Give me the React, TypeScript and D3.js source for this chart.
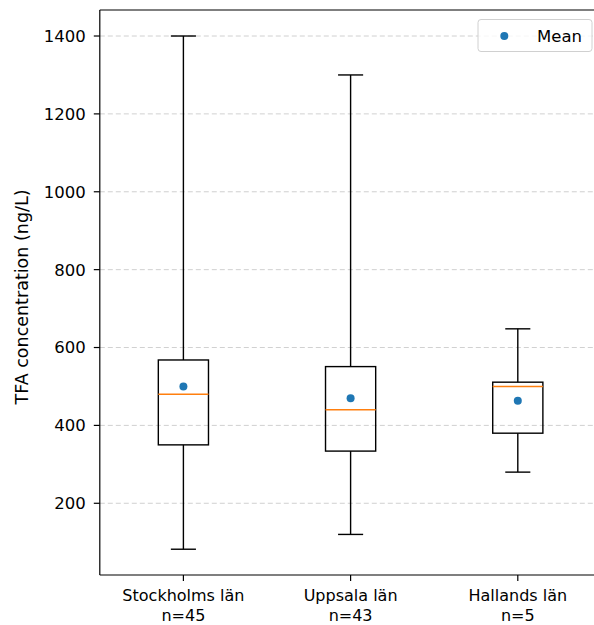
import React from "react";
import * as d3 from "d3";

// Box-plot summary per county (ng/L)
const categories = ["Stockholms län", "Uppsala län", "Hallands län"];
const counts = [45, 43, 5];
const whiskerLow = [82, 120, 280];
const q1 = [350, 334, 380];
const median = [480, 440, 500];
const q3 = [568, 551, 511];
const whiskerHigh = [1400, 1300, 648];
const means = [500, 470, 463];
const yTicks = [200, 400, 600, 800, 1000, 1200, 1400];

const W = 594;
const H = 625;
const plot = { left: 99.8, right: 601.4, top: 10, bottom: 575 };
const FONT = "DejaVu Sans, sans-serif";

export default function App() {
  const x = d3.scaleLinear().domain([0.5, 3.5]).range([plot.left, plot.right]);
  const y = d3.scaleLinear().domain([15.8, 1466.8]).range([plot.bottom, plot.top]);
  const boxW = x(1.15) - x(0.85);
  const capW = boxW / 2;

  return (
    <div style={{ position: "absolute", left: 0, top: 0 }}>
      <svg width={W} height={H} style={{ display: "block", background: "#fff" }}>
        <rect x={0} y={0} width={W} height={H} fill="#fff" />
        {/* horizontal dashed grid */}
        {yTicks.map((t) => (
          <line
            key={"g" + t}
            x1={plot.left}
            x2={plot.right}
            y1={y(t)}
            y2={y(t)}
            stroke="#b0b0b0"
            strokeOpacity={0.6}
            strokeWidth={1}
            strokeDasharray="5,3"
          />
        ))}
        {/* boxes */}
        {categories.map((c, i) => {
          const cx = x(i + 1);
          return (
            <g key={c} fill="none" stroke="#000" strokeWidth={1.4}>
              <line x1={cx} x2={cx} y1={y(q3[i])} y2={y(whiskerHigh[i])} />
              <line x1={cx} x2={cx} y1={y(q1[i])} y2={y(whiskerLow[i])} />
              <line x1={cx - capW / 2} x2={cx + capW / 2} y1={y(whiskerHigh[i])} y2={y(whiskerHigh[i])} />
              <line x1={cx - capW / 2} x2={cx + capW / 2} y1={y(whiskerLow[i])} y2={y(whiskerLow[i])} />
              <rect x={cx - boxW / 2} y={y(q3[i])} width={boxW} height={y(q1[i]) - y(q3[i])} />
              <line
                x1={cx - boxW / 2}
                x2={cx + boxW / 2}
                y1={y(median[i])}
                y2={y(median[i])}
                stroke="#ff7f0e"
                strokeWidth={1.6}
              />
              <circle cx={cx} cy={y(means[i])} r={4} fill="#1f77b4" stroke="none" />
            </g>
          );
        })}
        {/* spines */}
        <line x1={plot.left} x2={plot.left} y1={plot.top} y2={plot.bottom} stroke="#000" strokeWidth={1.2} />
        <line x1={plot.left} x2={plot.right} y1={plot.bottom} y2={plot.bottom} stroke="#000" strokeWidth={1.2} />
        <line x1={plot.left} x2={plot.right} y1={plot.top} y2={plot.top} stroke="#000" strokeWidth={1.2} />
        {/* y axis */}
        {yTicks.map((t) => (
          <g key={"y" + t}>
            <line x1={plot.left - 6} x2={plot.left} y1={y(t)} y2={y(t)} stroke="#000" strokeWidth={1.2} />
            <text
              x={plot.left - 14}
              y={y(t)}
              dy="0.36em"
              textAnchor="end"
              fontFamily={FONT}
              fontSize={16.5}
              fill="#000"
            >
              {t}
            </text>
          </g>
        ))}
        <text
          transform={`translate(22,297) rotate(-90)`}
          textAnchor="middle"
          dy="0.36em"
          fontFamily={FONT}
          fontSize={17.5}
          fill="#000"
        >
          TFA concentration (ng/L)
        </text>
        {/* x axis */}
        {categories.map((c, i) => {
          const cx = x(i + 1);
          return (
            <g key={"x" + c}>
              <line x1={cx} x2={cx} y1={plot.bottom} y2={plot.bottom + 6} stroke="#000" strokeWidth={1.2} />
              <text x={cx} y={595} dy="0.36em" textAnchor="middle" fontFamily={FONT} fontSize={16} fill="#000">
                {c}
              </text>
              <text x={cx} y={615.5} dy="0.36em" textAnchor="middle" fontFamily={FONT} fontSize={16} fill="#000">
                {"n=" + counts[i]}
              </text>
            </g>
          );
        })}
        {/* legend */}
        <g>
          <rect x={478} y={19.5} width={114} height={32} rx={3} fill="#fff" fillOpacity={0.8} stroke="#d0d0d0" strokeWidth={1} />
          <circle cx={504.3} cy={36} r={4} fill="#1f77b4" />
          <text x={537} y={36} dy="0.36em" fontFamily={FONT} fontSize={16.5} fill="#000">
            Mean
          </text>
        </g>
      </svg>
    </div>
  );
}
